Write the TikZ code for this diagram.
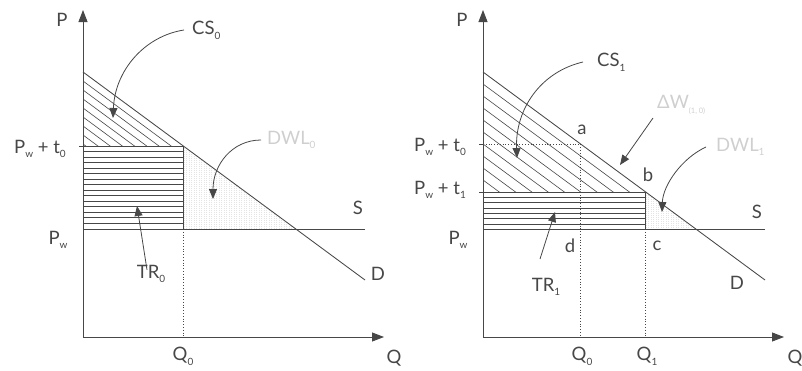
\documentclass[tikz,border=0pt]{standalone}
\usepackage{fontspec}
\setmainfont{Lato}
\usetikzlibrary{arrows.meta}
\definecolor{ink}{HTML}{474747}
\definecolor{faint}{HTML}{CFCFCF}
\definecolor{dotfill}{HTML}{E4E4E4}
\newcommand\lsub[1]{\raisebox{-0.5ex}{\fontsize{10}{10}\selectfont #1}}
\newcommand\tsub[1]{\raisebox{-0.6ex}{\fontsize{7.5}{8}\selectfont #1}}
\begin{document}
\begin{tikzpicture}[x=1pt,y=-1pt,
  lbl/.style={text=ink, font=\fontsize{18.5}{20}\selectfont, inner sep=0pt},
  flbl/.style={lbl, text=faint},
  ax/.style={draw=ink, line width=0.9pt, -{Triangle[length=12pt,width=9pt]}},
  ln/.style={draw=ink, line width=0.85pt},
  dotln/.style={draw=ink, line width=0.8pt, dotted},
  hatch/.style={draw=ink, line width=0.6pt},
  vfill/.style={draw=dotfill, line width=0.6pt, dash pattern=on 1pt off 1pt},
  ptr/.style={draw=ink, line width=0.8pt, -{Triangle[length=10pt,width=8pt]}}
]
\useasboundingbox (0,0) rectangle (802,370);

% ---------------- left panel ----------------
\coordinate (O1) at (83,337);
\coordinate (Yt1) at (83,10);
\coordinate (Xe1) at (384,337);
\coordinate (Dt1) at (83,72);
\coordinate (De1) at (365,280);
\coordinate (E1) at (183.3,146);
\coordinate (T1) at (83,146);
\coordinate (W1) at (83,229);
\coordinate (Q1b) at (183.3,229);
\coordinate (Q1x) at (183.3,337);
\coordinate (F1) at (295.7,229);
\coordinate (S1) at (365,229);

% DWL fill
\begin{scope}
\clip (E1) -- (Q1b) -- (F1) -- cycle;
\foreach \x in {184,186.5,...,296} \draw[vfill] (\x,140) -- (\x,230);
\end{scope}
% CS hatch
\begin{scope}
\clip (Dt1) -- (T1) -- (E1) -- cycle;
\foreach \k in {1,...,8} \draw[hatch] (83,72+9*\k) -- (283,72+9*\k+147.5);
\end{scope}
% TR hatch
\foreach \k in {1,...,14} \draw[hatch] (83,146+5.5*\k) -- (183.3,146+5.5*\k);
\draw[ln] (T1) -- (E1) -- (Q1b);
\draw[ln] (79,146) -- (T1);
\draw[dotln] (Q1b) -- (Q1x);
\draw[ln] (W1) -- (S1);
\draw[ln] (Dt1) -- (De1);
\draw[ax] (O1) -- (Yt1);
\draw[ax] (O1) -- (Xe1);

\node[lbl] (p1) at (62,20) {P};
\node[lbl] (q1) at (394,358) {Q};
\node[lbl] (qa1) at (183,356) {Q\lsub{0}};
\node[lbl] (d1) at (378,274) {D};
\node[lbl] (s1) at (358,208) {S};
\node[lbl] (pt1) at (40,149) {P\lsub{w} + t\lsub{0}};
\node[lbl] (pw1) at (58,240) {P\lsub{w}};
\node[lbl] (tr1) at (151,274) {TR\lsub{0}};
\node[lbl,anchor=west] (cs1) at (192,30) {CS\lsub{0}};
\node[flbl,anchor=west] (dwl1) at (267,140) {DWL\lsub{0}};

\coordinate (cs1tip) at (113,118);
\coordinate (dwl1tip) at (213,199);
\coordinate (tr1tip) at (137,206);
\draw[ptr] ([xshift=-8pt]cs1.west) .. controls (145,36) and (115,70) .. (cs1tip);
\draw[ptr] ([xshift=-6pt]dwl1.west) .. controls (232,140) and (213,165) .. (dwl1tip);
\draw[ptr] ([yshift=-5pt]tr1.north) ++(-4,0) -- (tr1tip);

% ---------------- right panel ----------------
\coordinate (O2) at (483,337);
\coordinate (Yt2) at (483,10);
\coordinate (Xe2) at (784,337);
\coordinate (Dt2) at (483,72);
\coordinate (De2) at (765,280);
\coordinate (A2) at (580.6,144);
\coordinate (T20) at (483,144);
\coordinate (B2) at (645.7,192);
\coordinate (T21) at (483,192);
\coordinate (W2) at (483,229);
\coordinate (A2b) at (580.6,229);
\coordinate (A2x) at (580.6,337);
\coordinate (B2b) at (645.7,229);
\coordinate (B2x) at (645.7,337);
\coordinate (F2) at (695.7,229);
\coordinate (S2) at (765,229);

\begin{scope}
\clip (B2) -- (B2b) -- (F2) -- cycle;
\foreach \x in {646,648.5,...,696} \draw[vfill] (\x,185) -- (\x,230);
\end{scope}
\begin{scope}
\clip (Dt2) -- (T21) -- (B2) -- cycle;
\foreach \k in {1,...,10} \draw[hatch] (483,72+12*\k) -- (683,72+12*\k+147.5);
\end{scope}
\foreach \k in {1,...,6} \draw[hatch] (483,192+5.3*\k) -- (645.7,192+5.3*\k);
\draw[ln] (T21) -- (B2) -- (B2b);
\draw[ln] (479,192) -- (T21);
\draw[ln] (479,144) -- (T20);
\draw[dotln] (T20) -- (A2) -- (A2x);
\draw[dotln] (B2b) -- (B2x);
\draw[ln] (W2) -- (S2);
\draw[ln] (Dt2) -- (De2);
\draw[ax] (O2) -- (Yt2);
\draw[ax] (O2) -- (Xe2);

\node[lbl] (p2) at (462,20) {P};
\node[lbl] (q2) at (795,358) {Q};
\node[lbl] (qa2) at (582,356) {Q\lsub{0}};
\node[lbl] (qb2) at (647,356) {Q\lsub{1}};
\node[lbl] (d2) at (737,283) {D};
\node[lbl] (s2) at (757,212) {S};
\node[lbl] (pt20) at (440,147) {P\lsub{w} + t\lsub{0}};
\node[lbl] (pt21) at (440,190) {P\lsub{w} + t\lsub{1}};
\node[lbl] (pw2) at (458,240) {P\lsub{w}};
\node[lbl] (la) at (582,130) {a};
\node[lbl] (lb) at (648,175) {b};
\node[lbl] (lc) at (657,246) {c};
\node[lbl] (ld) at (570,246) {d};
\node[lbl] (tr2) at (546,287) {TR\lsub{1}};
\node[lbl,anchor=west] (cs2) at (597,62) {CS\lsub{1}};
\node[flbl,anchor=west] (dw2) at (657,105) {ΔW\tsub{(1, 0)}};
\node[flbl,anchor=west] (dwl2) at (716,147) {DWL\lsub{1}};

\coordinate (cs2tip) at (517,158);
\coordinate (dw2tip) at (620,165);
\coordinate (dwl2tip) at (662,212);
\coordinate (tr2tip) at (555,212);
\coordinate (tr2s) at (540,259);
\coordinate (dw2s) at (653,118);
\draw[ptr] ([xshift=-14pt]cs2.west) .. controls (540,72) and (515,110) .. (cs2tip);
\draw[ptr] (dw2s) -- (dw2tip);
\draw[ptr] ([xshift=-10pt]dwl2.west) .. controls (682,158) and (663,185) .. (dwl2tip);
\draw[ptr] (tr2s) -- (tr2tip);
\end{tikzpicture}
\end{document}
